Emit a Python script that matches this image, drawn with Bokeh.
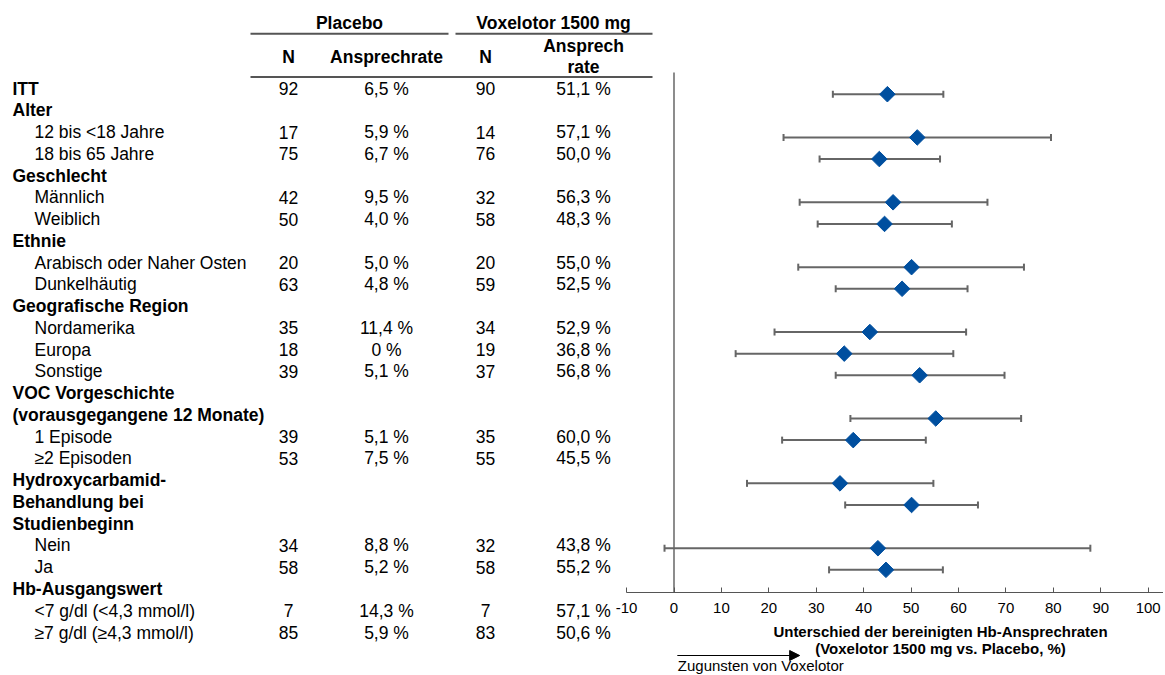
import numpy as np
from bokeh.plotting import figure
from bokeh.models import Range1d, LinearAxis, FixedTicker, Arrow, NormalHead, ColumnDataSource
from bokeh.core.properties import value
from bokeh.embed import file_html
from bokeh.resources import INLINE

# ---------------- data ----------------
label_text = [
    "ITT", "Alter", "12 bis <18 Jahre", "18 bis 65 Jahre", "Geschlecht", "Männlich", "Weiblich",
    "Ethnie", "Arabisch oder Naher Osten", "Dunkelhäutig", "Geografische Region", "Nordamerika",
    "Europa", "Sonstige", "VOC Vorgeschichte", "(vorausgegangene 12 Monate)", "1 Episode",
    "≥2 Episoden", "Hydroxycarbamid-", "Behandlung bei", "Studienbeginn", "Nein", "Ja",
    "Hb-Ausgangswert", "<7 g/dl (<4,3 mmol/l)", "≥7 g/dl (≥4,3 mmol/l)",
]
label_is_header = [
    True, True, False, False, True, False, False, True, False, False, True, False, False, False,
    True, True, False, False, True, True, True, False, False, True, False, False,
]

subgroups = [
    "ITT", "12 bis <18 Jahre", "18 bis 65 Jahre", "Männlich", "Weiblich",
    "Arabisch oder Naher Osten", "Dunkelhäutig", "Nordamerika", "Europa", "Sonstige",
    "1 Episode", "≥2 Episoden", "Nein", "Ja", "<7 g/dl (<4,3 mmol/l)", "≥7 g/dl (≥4,3 mmol/l)",
]
placebo_n = [92, 17, 75, 42, 50, 20, 63, 35, 18, 39, 39, 53, 34, 58, 7, 85]
placebo_rate = [6.5, 5.9, 6.7, 9.5, 4.0, 5.0, 4.8, 11.4, 0.0, 5.1, 5.1, 7.5, 8.8, 5.2, 14.3, 5.9]
vox_n = [90, 14, 76, 32, 58, 20, 59, 34, 19, 37, 35, 55, 32, 58, 7, 83]
vox_rate = [51.1, 57.1, 50.0, 56.3, 48.3, 55.0, 52.5, 52.9, 36.8, 56.8, 60.0, 45.5, 43.8, 55.2, 57.1, 50.6]

# forest plot (difference in adjusted Hb response rates, %, with CI)
diff = [45.0, 51.3, 43.3, 46.2, 44.4, 50.1, 48.1, 41.3, 35.9, 51.8, 55.2, 37.8, 35.0, 50.1, 43.0, 44.7]
ci_lo = [33.5, 23.1, 30.7, 26.5, 30.3, 26.2, 34.1, 21.2, 13.0, 34.1, 37.2, 22.8, 15.4, 36.1, -2.0, 32.7]
ci_hi = [56.8, 79.5, 56.1, 66.1, 58.6, 73.8, 61.9, 61.6, 58.9, 69.7, 73.2, 53.1, 54.7, 64.1, 87.8, 56.7]
forest_row = [0, 2, 3, 5, 6, 8, 9, 11, 12, 13, 15, 16, 18, 19, 21, 22]

x_ticks = [-10, 0, 10, 20, 30, 40, 50, 60, 70, 80, 90, 100]
x_title = ["Unterschied der bereinigten Hb-Ansprechraten", "(Voxelotor 1500 mg vs. Placebo, %)"]
arrow_text = "Zugunsten von Voxelotor"
group_headers = ["Placebo", "Voxelotor 1500 mg"]
col_headers = ["N", "Ansprechrate", "N"]
col_header_last = ["Ansprech", "rate"]


def fmt_rate(v):
    if v == 0:
        return "0 %"
    return f"{v:.1f}".replace(".", ",") + " %"


# ---------------- layout constants ----------------
W, H = 1163, 675
ROW0, STEP = 88.0, 21.76           # canvas y of table row 0, row spacing
F0, FSTEP = 93.7, 21.62            # canvas y of forest row 0, spacing
X0PX, PXU = 673.5, 4.742           # canvas x of 0 %, px per unit
FONT = value("Liberation Sans")
TXT = "17.5px"


def row_of(py):
    return (py - ROW0) / STEP


p = figure(
    width=W, height=H,
    x_range=Range1d(0, W),
    y_range=Range1d(row_of(H), row_of(0)),
    output_backend="svg", toolbar_location=None,
    x_axis_type=None, y_axis_type=None, title=None,
    min_border=0, outline_line_color=None,
)
p.extra_x_ranges = {"forest": Range1d((0 - X0PX) / PXU, (W - X0PX) / PXU)}
p.extra_y_ranges = {"forest": Range1d((H - F0) / FSTEP, (0 - F0) / FSTEP)}

# ---------------- table: labels ----------------
rows = list(range(len(label_text)))
lab_src = ColumnDataSource(dict(
    x=[12 if h else 34 for h in label_is_header],
    y=rows,
    text=label_text,
    style=["bold" if h else "normal" for h in label_is_header],
))
p.text(x="x", y="y", text="text", source=lab_src, text_font=FONT, text_font_size=TXT,
       text_font_style="style", text_baseline="middle", text_align="left", text_color="black")

# ---------------- table: values ----------------
data_rows = [label_text.index(s) for s in subgroups]
col_x = [288, 386, 485, 583]
cols = [
    [str(v) for v in placebo_n],
    [fmt_rate(v) for v in placebo_rate],
    [str(v) for v in vox_n],
    [fmt_rate(v) for v in vox_rate],
]
for cx, txts in zip(col_x, cols):
    p.text(x=[cx] * len(txts), y=data_rows, text=txts, text_font=FONT, text_font_size=TXT,
           text_baseline="middle", text_align="center", text_color="black")

# ---------------- table header ----------------
p.text(x=[349, 553], y=[row_of(22)] * 2, text=group_headers, text_font=FONT,
       text_font_size=TXT, text_font_style="bold", text_baseline="middle", text_align="center")
p.text(x=col_x[:3], y=[row_of(56)] * 3, text=col_headers, text_font=FONT,
       text_font_size=TXT, text_font_style="bold", text_baseline="middle", text_align="center")
p.text(x=[col_x[3]] * 2, y=[row_of(45), row_of(66)], text=col_header_last, text_font=FONT,
       text_font_size=TXT, text_font_style="bold", text_baseline="middle", text_align="center")
p.segment(x0=[250, 455, 250], x1=[448, 652, 652],
          y0=[row_of(33.3), row_of(33.3), row_of(76.5)],
          y1=[row_of(33.3), row_of(33.3), row_of(76.5)],
          line_color="#555555", line_width=2)

# ---------------- forest plot ----------------
axis_row = row_of(592)
p.segment(x0=[0], x1=[0], y0=[row_of(72)], y1=[axis_row], x_range_name="forest",
          line_color="#404040", line_width=1.2)

fsrc = ColumnDataSource(dict(diff=diff, lo=ci_lo, hi=ci_hi, y=forest_row))
p.segment(x0="lo", x1="hi", y0="y", y1="y", source=fsrc, x_range_name="forest",
          y_range_name="forest", line_color="#666666", line_width=2)
p.scatter(x="lo", y="y", source=fsrc, marker="dash", angle=np.pi / 2, size=7,
          line_color="#666666", line_width=2, x_range_name="forest", y_range_name="forest")
p.scatter(x="hi", y="y", source=fsrc, marker="dash", angle=np.pi / 2, size=7,
          line_color="#666666", line_width=2, x_range_name="forest", y_range_name="forest")
p.scatter(x="diff", y="y", source=fsrc, marker="square", angle=np.pi / 4, size=11,
          fill_color="#004f9f", line_color="#004f9f", x_range_name="forest",
          y_range_name="forest")

ax = LinearAxis(x_range_name="forest", fixed_location=axis_row, bounds=(-10, 104),
                ticker=FixedTicker(ticks=x_ticks))
ax.major_label_overrides = {-10: "-10"}
ax.axis_line_color = "#555555"
ax.axis_line_width = 1.2
ax.major_tick_line_color = "#555555"
ax.major_tick_in = 5
ax.major_tick_out = 0
ax.minor_tick_line_color = None
ax.major_label_text_font = "Liberation Sans"
ax.major_label_text_font_size = "15px"
ax.major_label_text_color = "black"
ax.major_label_standoff = 10
p.add_layout(ax, "below")

# axis title
title_x = (940 - X0PX) / PXU
p.text(x=[title_x] * 2, y=[row_of(631), row_of(648)], text=x_title, x_range_name="forest",
       text_font=FONT, text_font_size="15px", text_font_style="bold",
       text_baseline="middle", text_align="center", text_color="black")

# arrow and note
ya = row_of(655)
p.add_layout(Arrow(end=NormalHead(size=10, fill_color="black", line_color="black"),
                   x_start=0.7, x_end=26.5, y_start=ya, y_end=ya,
                   x_range_name="forest", line_color="black", line_width=1.2))
p.text(x=[0.8], y=[row_of(665)], text=[arrow_text], x_range_name="forest",
       text_font=FONT, text_font_size="15px", text_baseline="alphabetic",
       text_align="left", text_color="black")

open("out.html", "w").write(file_html(p, INLINE))
